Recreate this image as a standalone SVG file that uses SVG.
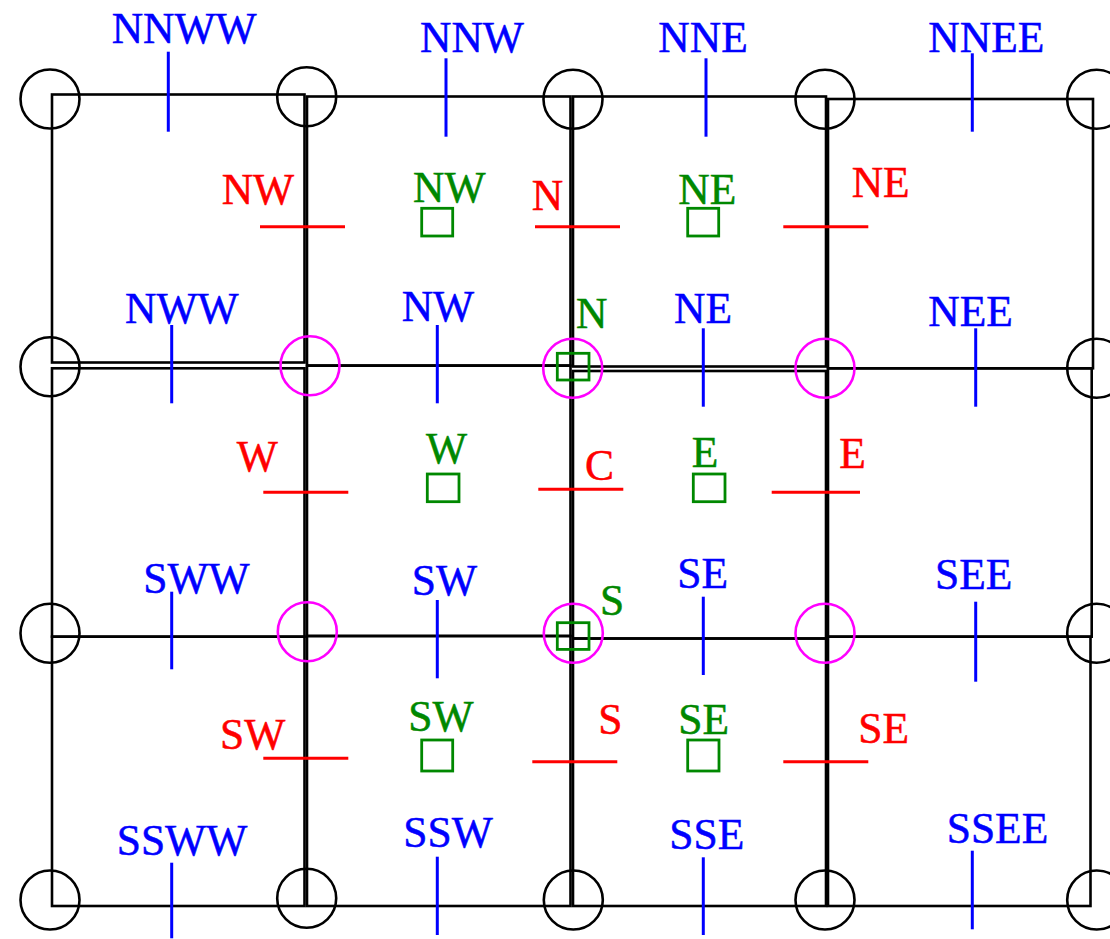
<svg xmlns="http://www.w3.org/2000/svg" width="1110" height="939" viewBox="0 0 1110 939">
<style>
.cell{fill:none;stroke:#000;stroke-width:2.6}
.corner{fill:none;stroke:#000;stroke-width:2.6}
.mag{fill:none;stroke:#f0f;stroke-width:2.6}
.tb{stroke:#00f;stroke-width:3}
.tr{stroke:#f00;stroke-width:3}
.sq{fill:none;stroke:#080;stroke-width:2.8}
text{font-family:"Liberation Serif","Times New Roman",serif;font-size:43.5px;stroke-width:0.5}
.b{fill:#00f;stroke:#00f}.r{fill:#f00;stroke:#f00}.g{fill:#080;stroke:#080}
</style>
<rect width="1110" height="939" fill="#fff"/>
<g id="cells">
<rect class="cell" x="52" y="94.5" width="252.5" height="268"/>
<rect class="cell" x="307" y="96.5" width="263.5" height="269"/>
<rect class="cell" x="573" y="96.5" width="253" height="270"/>
<rect class="cell" x="828" y="99" width="265" height="269.3"/>
<rect class="cell" x="52" y="368.3" width="252.5" height="268.4"/>
<rect class="cell" x="307" y="365.7" width="263.5" height="270.3"/>
<rect class="cell" x="573" y="371" width="253" height="267.5"/>
<rect class="cell" x="828" y="368.3" width="263.7" height="268.4"/>
<rect class="cell" x="52" y="636.7" width="252.5" height="269.3"/>
<rect class="cell" x="307" y="636" width="263.5" height="270"/>
<rect class="cell" x="573" y="638.5" width="253" height="267.5"/>
<rect class="cell" x="828" y="636.7" width="262.5" height="269.3"/>
</g>
<g id="corners">
<circle class="corner" cx="50" cy="99" r="29.5"/>
<circle class="corner" cx="306.7" cy="96.7" r="29.5"/>
<circle class="corner" cx="573" cy="99.3" r="29.5"/>
<circle class="corner" cx="825" cy="99.3" r="29.5"/>
<circle class="corner" cx="1096.7" cy="99.3" r="29.5"/>
<circle class="corner" cx="50" cy="366.7" r="29.5"/>
<circle class="corner" cx="1096.7" cy="368.3" r="29.5"/>
<circle class="corner" cx="50" cy="633.3" r="29.5"/>
<circle class="corner" cx="1096.7" cy="633.3" r="29.5"/>
<circle class="corner" cx="50" cy="900" r="29.5"/>
<circle class="corner" cx="306.7" cy="898.3" r="29.5"/>
<circle class="corner" cx="573.3" cy="900" r="29.5"/>
<circle class="corner" cx="825" cy="900" r="29.5"/>
<circle class="corner" cx="1096.7" cy="900" r="29.5"/>
</g>
<g id="inner-corners">
<circle class="mag" cx="310" cy="365.7" r="29.5"/>
<circle class="mag" cx="572.7" cy="368.3" r="29.5"/>
<circle class="mag" cx="825" cy="368.3" r="29.5"/>
<circle class="mag" cx="307.3" cy="631.7" r="29.5"/>
<circle class="mag" cx="573.3" cy="633.3" r="29.5"/>
<circle class="mag" cx="825" cy="633.3" r="29.5"/>
</g>
<g id="blue-ticks">
<line class="tb" x1="168.3" y1="51.7" x2="168.3" y2="131.7"/>
<line class="tb" x1="446" y1="58.3" x2="446" y2="136.7"/>
<line class="tb" x1="706" y1="58.3" x2="706" y2="136.7"/>
<line class="tb" x1="972.3" y1="53.3" x2="972.3" y2="131.7"/>
<line class="tb" x1="171.7" y1="325" x2="171.7" y2="403.3"/>
<line class="tb" x1="437.3" y1="325" x2="437.3" y2="403.3"/>
<line class="tb" x1="703.3" y1="328.3" x2="703.3" y2="406.7"/>
<line class="tb" x1="975.7" y1="328.3" x2="975.7" y2="406.7"/>
<line class="tb" x1="171.7" y1="591.7" x2="171.7" y2="669.3"/>
<line class="tb" x1="437.3" y1="600" x2="437.3" y2="678.3"/>
<line class="tb" x1="703.3" y1="596.7" x2="703.3" y2="675"/>
<line class="tb" x1="975.7" y1="601.7" x2="975.7" y2="681.7"/>
<line class="tb" x1="171.7" y1="862.7" x2="171.7" y2="938.3"/>
<line class="tb" x1="437.3" y1="856.7" x2="437.3" y2="935"/>
<line class="tb" x1="703.3" y1="857.3" x2="703.3" y2="935"/>
<line class="tb" x1="972.3" y1="850.7" x2="972.3" y2="929.3"/>
</g>
<g id="red-ticks">
<line class="tr" x1="260" y1="226.7" x2="345" y2="226.7"/>
<line class="tr" x1="535" y1="226.7" x2="620" y2="226.7"/>
<line class="tr" x1="783.3" y1="226.7" x2="868.3" y2="226.7"/>
<line class="tr" x1="263.3" y1="492.3" x2="348.3" y2="492.3"/>
<line class="tr" x1="538.3" y1="489.3" x2="623.3" y2="489.3"/>
<line class="tr" x1="771.7" y1="492.3" x2="860" y2="492.3"/>
<line class="tr" x1="263.3" y1="758.3" x2="348.3" y2="758.3"/>
<line class="tr" x1="532.3" y1="761.7" x2="617.3" y2="761.7"/>
<line class="tr" x1="783.3" y1="761.7" x2="868.3" y2="761.7"/>
</g>
<g id="green-squares">
<rect class="sq" x="421.7" y="208.3" width="31" height="27.7"/>
<rect class="sq" x="687.7" y="208.3" width="31" height="27.7"/>
<rect class="sq" x="557.3" y="353.3" width="31.7" height="26.7"/>
<rect class="sq" x="427.3" y="474" width="31.7" height="27.7"/>
<rect class="sq" x="693.3" y="474" width="31.7" height="27.7"/>
<rect class="sq" x="557.3" y="622.7" width="31.7" height="26.7"/>
<rect class="sq" x="421.7" y="740" width="31" height="31"/>
<rect class="sq" x="687.7" y="740" width="31.3" height="31"/>
</g>
<g id="labels">
<text class="b" x="111.7" y="43.3">NNWW</text>
<text class="b" x="420" y="51.7">NNW</text>
<text class="b" x="658.3" y="51.7">NNE</text>
<text class="b" x="928.3" y="51.7">NNEE</text>
<text class="r" x="221.7" y="204">NW</text>
<text class="r" x="531.7" y="210">N</text>
<text class="r" x="851.7" y="196.7">NE</text>
<text class="g" x="413" y="201.7">NW</text>
<text class="g" x="678.3" y="204">NE</text>
<text class="b" x="125" y="322.7">NWW</text>
<text class="b" x="401.7" y="320.7">NW</text>
<text class="g" x="576" y="328.3">N</text>
<text class="b" x="674" y="323.3">NE</text>
<text class="b" x="928.3" y="326">NEE</text>
<text class="r" x="236.7" y="470.7">W</text>
<text class="g" x="426" y="463.3">W</text>
<text class="r" x="585" y="480">C</text>
<text class="g" x="691.7" y="466.7">E</text>
<text class="r" x="839.3" y="468.3">E</text>
<text class="b" x="143.3" y="592.7">SWW</text>
<text class="b" x="411.7" y="595">SW</text>
<text class="g" x="600" y="615">S</text>
<text class="b" x="677.3" y="588.3">SE</text>
<text class="b" x="935" y="589.3">SEE</text>
<text class="r" x="220" y="749.3">SW</text>
<text class="g" x="408.3" y="731">SW</text>
<text class="r" x="598.3" y="734.3">S</text>
<text class="g" x="678.3" y="734.3">SE</text>
<text class="r" x="858.3" y="743.3">SE</text>
<text class="b" x="116.7" y="855">SSWW</text>
<text class="b" x="403.3" y="846.7">SSW</text>
<text class="b" x="669.3" y="849.3">SSE</text>
<text class="b" x="946.7" y="842.7">SSEE</text>
</g>
</svg>
